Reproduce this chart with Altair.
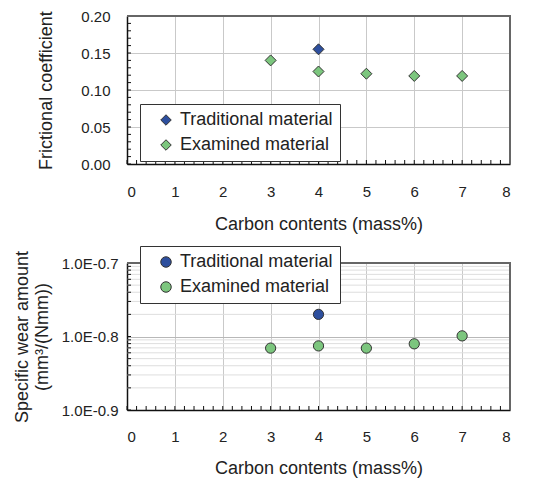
import altair as alt
import pandas as pd

# ---------------- data ----------------
materials = ["Traditional material", "Examined material"]
colors = ["#2d4f9e", "#7cc67e"]

trad_carbon = [4]
exam_carbon = [3, 4, 5, 6, 7]

fric_trad = [0.155]
fric_exam = [0.140, 0.125, 0.122, 0.119, 0.119]

wear_trad = [2.0e-8]
wear_exam = [6.95e-9, 7.45e-9, 6.95e-9, 7.95e-9, 1.02e-8]

x_ticks = [0, 1, 2, 3, 4, 5, 6, 7, 8]
x_minor = [round(i * 0.2, 1) for i in range(41)]
fric_ticks = [0.0, 0.05, 0.10, 0.15, 0.20]
fric_minor = [round(i * 0.01, 2) for i in range(21)]
wear_major = [1e-9, 1e-8, 1e-7]
wear_minor = [2e-9, 3e-9, 4e-9, 5e-9, 6e-9, 7e-9, 8e-9, 9e-9,
              2e-8, 3e-8, 4e-8, 5e-8, 6e-8, 7e-8, 8e-8, 9e-8]

FONT = "Liberation Sans"
TXT = "#222222"
W = 383
H1 = 148
H2 = 147

fric_df = pd.DataFrame({
    "carbon": trad_carbon + exam_carbon,
    "value": fric_trad + fric_exam,
    "Material": [materials[0]] * len(trad_carbon) + [materials[1]] * len(exam_carbon),
})
wear_df = pd.DataFrame({
    "carbon": trad_carbon + exam_carbon,
    "value": wear_trad + wear_exam,
    "Material": [materials[0]] * len(trad_carbon) + [materials[1]] * len(exam_carbon),
})

xscale = alt.Scale(domain=[0, 8], nice=False, zero=False)


def x_axis(pad_label, pad_title):
    return alt.Axis(values=x_ticks, format="d", title="Carbon contents (mass%)",
                    grid=True, gridColor="#c9c9c9", gridWidth=1,
                    ticks=False, domainColor="#111111", domainWidth=1.5,
                    labelPadding=pad_label, titlePadding=pad_title)


def legend(y, sym):
    return alt.Legend(title=None, orient="none", legendX=13, legendY=y,
                      fillColor="white", strokeColor="#333333", padding=7,
                      rowPadding=7, symbolOffset=10, labelOffset=5,
                      labelFontSize=18, labelFont=FONT, labelColor=TXT,
                      symbolType=sym, symbolSize=110, symbolStrokeColor="#333333",
                      symbolStrokeWidth=1, labelLimit=400)


# ---------------- top panel ----------------
yfric = alt.Scale(domain=[0, 0.2], nice=False)
fric_axis = alt.Axis(values=fric_ticks, format=".2f", title="Frictional coefficient",
                     grid=True, gridColor="#c9c9c9", gridWidth=1, ticks=False,
                     domainColor="#111111", domainWidth=1.5,
                     labelPadding=17, titlePadding=25)

top_pts = alt.Chart(fric_df).mark_point(shape="diamond", filled=True, size=121,
                                        stroke="#333333", strokeWidth=1, opacity=1).encode(
    x=alt.X("carbon:Q", scale=xscale, axis=x_axis(20, 16)),
    y=alt.Y("value:Q", scale=yfric, axis=fric_axis),
    color=alt.Color("Material:N", scale=alt.Scale(domain=materials, range=colors),
                    legend=legend(88, "diamond")),
)

top_xt = alt.Chart(pd.DataFrame({"t": x_minor})).mark_rule(color="#111111", strokeWidth=1).encode(
    x=alt.X("t:Q", scale=xscale, axis=x_axis(20, 16)),
    y=alt.value(H1), y2=alt.value(H1 - 4),
)
top_yt = alt.Chart(pd.DataFrame({"t": fric_minor})).mark_rule(color="#111111", strokeWidth=1).encode(
    y=alt.Y("t:Q", scale=yfric, axis=fric_axis),
    x=alt.value(0), x2=alt.value(4),
)
top_frame_t = alt.Chart(pd.DataFrame({"a": [0]})).mark_rule(color="#666666", strokeWidth=2).encode(
    x=alt.value(0), x2=alt.value(W + 1), y=alt.value(0))
top_frame_r = alt.Chart(pd.DataFrame({"a": [0]})).mark_rule(color="#666666", strokeWidth=2).encode(
    x=alt.value(W), y=alt.value(0), y2=alt.value(H1))

top = alt.layer(top_xt, top_yt, top_pts, top_frame_t, top_frame_r).properties(width=W, height=H1)

# ---------------- bottom panel ----------------
ywear = alt.Scale(type="log", domain=[1e-9, 1e-7], nice=False)
wear_axis = alt.Axis(values=wear_major,
                     labelExpr="datum.value < 5e-9 ? '1.0E-0.9' : (datum.value < 5e-8 ? '1.0E-0.8' : '1.0E-0.7')",
                     title=["Specific wear amount", "(mm³/(Nmm))"],
                     grid=True, gridColor="#b8b8b8", gridWidth=1, ticks=False,
                     domainColor="#111111", domainWidth=1.5,
                     labelPadding=9, titlePadding=10, titleLineHeight=20)

bot_grid = alt.Chart(pd.DataFrame({"g": wear_minor})).mark_rule(color="#dedede", strokeWidth=1).encode(
    y=alt.Y("g:Q", scale=ywear, axis=wear_axis),
    x=alt.value(0), x2=alt.value(W),
)
bot_pts = alt.Chart(wear_df).mark_point(shape="circle", filled=True, size=105,
                                        stroke="#333333", strokeWidth=1, opacity=1).encode(
    x=alt.X("carbon:Q", scale=xscale, axis=x_axis(19, 15)),
    y=alt.Y("value:Q", scale=ywear, axis=wear_axis),
    color=alt.Color("Material:N", scale=alt.Scale(domain=materials, range=colors),
                    legend=legend(-17, "circle")),
)
bot_xt = alt.Chart(pd.DataFrame({"t": x_minor})).mark_rule(color="#111111", strokeWidth=1).encode(
    x=alt.X("t:Q", scale=xscale, axis=x_axis(19, 15)),
    y=alt.value(H2), y2=alt.value(H2 - 4),
)
bot_yt = alt.Chart(pd.DataFrame({"t": wear_minor + wear_major})).mark_rule(color="#111111", strokeWidth=1).encode(
    y=alt.Y("t:Q", scale=ywear, axis=wear_axis),
    x=alt.value(0), x2=alt.value(4),
)
bot_frame_t = alt.Chart(pd.DataFrame({"a": [0]})).mark_rule(color="#666666", strokeWidth=2).encode(
    x=alt.value(0), x2=alt.value(W + 1), y=alt.value(0))
bot_frame_r = alt.Chart(pd.DataFrame({"a": [0]})).mark_rule(color="#666666", strokeWidth=2).encode(
    x=alt.value(W), y=alt.value(0), y2=alt.value(H2))

bottom = alt.layer(bot_grid, bot_xt, bot_yt, bot_pts, bot_frame_t, bot_frame_r).properties(width=W, height=H2)

chart = alt.vconcat(top, bottom, spacing=12).resolve_scale(
    color="independent"
).resolve_legend(color="independent").properties(
    padding={"left": 5, "top": 1, "right": 5, "bottom": 5}
).configure_view(stroke=None).configure_axis(
    labelFont=FONT, titleFont=FONT, labelFontSize=15, titleFontSize=18,
    labelColor=TXT, titleColor=TXT, titleFontWeight="normal",
).configure_legend(labelFont=FONT)

chart.save("out.html", embed_options={"renderer": "svg", "actions": False})
